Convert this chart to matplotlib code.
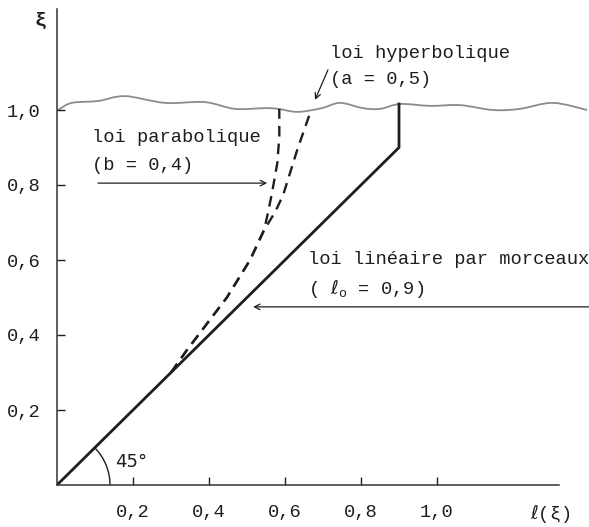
import matplotlib
matplotlib.use('Agg')
import matplotlib.pyplot as plt
from matplotlib.patches import Arc, PathPatch
from matplotlib.path import Path

plt.rcParams['mathtext.fontset'] = 'dejavusans'

# ── Data ──────────────────────────────────────────────────────────────────────
# piecewise linear law (l0 = 0.9)
lin_l  = [0.0, 0.9, 0.9]
lin_xi = [0.0, 0.9, 1.016]

# shared lower part of the parabolic / hyperbolic laws
common_l  = [0.30, 0.342, 0.447, 0.508, 0.545]
common_xi = [0.30, 0.36, 0.50, 0.60, 0.68]

# parabolic law (b = 0.4), upper branch
para_l  = [0.555, 0.566, 0.580, 0.585, 0.585]
para_xi = [0.725, 0.780, 0.860, 0.930, 1.003]

# hyperbolic law (a = 0.5), upper branch
hyp_l  = [0.574, 0.595, 0.632, 0.667]
hyp_xi = [0.728, 0.773, 0.893, 0.995]

# break line at xi = 1
wave_l  = [0.003, 0.039, 0.108, 0.179, 0.284, 0.389, 0.468, 0.547, 0.582, 0.634,
           0.697, 0.745, 0.805, 0.850, 0.903, 0.982, 1.061, 1.147, 1.218, 1.305, 1.395]
wave_xi = [1.000, 1.019, 1.024, 1.037, 1.019, 1.021, 1.003, 1.005, 1.003, 0.995,
           1.005, 1.019, 1.005, 1.003, 1.016, 1.011, 1.013, 1.000, 1.003, 1.019, 1.000]

x_ticks  = [0.2, 0.4, 0.6, 0.8, 1.0]
x_labels = ['0,2', '0,4', '0,6', '0,8', '1,0']
y_ticks  = [0.2, 0.4, 0.6, 0.8, 1.0]
y_labels = ['0,2', '0,4', '0,6', '0,8', '1,0']

# ── Style ─────────────────────────────────────────────────────────────────────
INK   = '#1e1e1e'
MONO  = ['Liberation Mono', 'DejaVu Sans Mono']
FS    = 13.5


def smooth_path(xs, ys):
    # Catmull-Rom through the nodes, written as cubic Bezier segments
    verts = [(xs[0], ys[0])]
    codes = [Path.MOVETO]
    n = len(xs)
    for i in range(n - 1):
        x0, y0 = (xs[i - 1], ys[i - 1]) if i > 0 else (xs[i], ys[i])
        x1, y1 = xs[i], ys[i]
        x2, y2 = xs[i + 1], ys[i + 1]
        x3, y3 = (xs[i + 2], ys[i + 2]) if i + 2 < n else (x2, y2)
        c1 = (x1 + (x2 - x0) / 6, y1 + (y2 - y0) / 6)
        c2 = (x2 - (x3 - x1) / 6, y2 - (y3 - y1) / 6)
        verts += [c1, c2, (x2, y2)]
        codes += [Path.CURVE4] * 3
    return Path(verts, codes)


fig = plt.figure(figsize=(5.89, 5.27), dpi=100)
fig.patch.set_facecolor('white')
ax = fig.add_axes([57 / 589, 42 / 527, 528 / 589, 476 / 527])
ax.set_xlim(0, 528 / 380)
ax.set_ylim(0, 476 / 375)

for side in ('top', 'right'):
    ax.spines[side].set_visible(False)
for side in ('left', 'bottom'):
    ax.spines[side].set_color('#333333')
    ax.spines[side].set_linewidth(1.1)
ax.spines['bottom'].set_bounds(0, 1.32)

ax.set_xticks(x_ticks)
ax.set_xticklabels(x_labels, fontfamily=MONO, fontsize=FS)
ax.set_yticks(y_ticks)
ax.set_yticklabels(y_labels, fontfamily=MONO, fontsize=FS)
ax.tick_params(axis='x', direction='in', length=6, width=1, pad=14, colors=INK)
ax.tick_params(axis='y', direction='in', length=6, width=1, pad=12, colors=INK)

# ── Curves ────────────────────────────────────────────────────────────────────
ax.add_patch(PathPatch(smooth_path(wave_l, wave_xi), fill=False,
                       edgecolor='#8c8c8c', lw=1.3, clip_on=False))
ax.plot(lin_l, lin_xi, color=INK, lw=2.0, solid_joinstyle='miter')

dash = (0, (4.5, 3))
ax.plot(common_l + para_l, common_xi + para_xi, color=INK, lw=1.7, linestyle=dash)
ax.plot(common_l + hyp_l, common_xi + hyp_xi, color=INK, lw=1.7, linestyle=dash)

# 45 degree marker at the origin
ax.add_patch(Arc((0, 0), 2 * 53 / 380, 2 * 53 / 375, theta1=0, theta2=45,
                 color=INK, lw=1.0))
ax.text(0.195, 0.062, '45°', fontsize=13, color=INK, ha='center', va='center',
        family='DejaVu Sans')

# ── Annotations ───────────────────────────────────────────────────────────────
arrow = dict(arrowstyle='->', color=INK, lw=0.9, shrinkA=0, shrinkB=0)

ax.text(0.718, 1.152, 'loi hyperbolique', family=MONO, fontsize=FS, color=INK,
        va='center', ha='left')
ax.text(0.718, 1.080, '(a = 0,5)', family=MONO, fontsize=FS, color=INK,
        va='center', ha='left')
ax.annotate('', xy=(0.679, 1.027), xytext=(0.713, 1.107), arrowprops=arrow)

ax.text(0.092, 0.928, 'loi parabolique', family=MONO, fontsize=FS, color=INK,
        va='center', ha='left')
ax.text(0.092, 0.853, '(b = 0,4)', family=MONO, fontsize=FS, color=INK,
        va='center', ha='left')
ax.annotate('', xy=(0.553, 0.805), xytext=(0.108, 0.805), arrowprops=arrow)

ax.text(0.661, 0.600, 'loi linéaire par morceaux', family=MONO, fontsize=FS,
        color=INK, va='center', ha='left', clip_on=False)
ax.text(0.661, 0.525, r'( $\ell_\mathregular{o}$ = 0,9)', family=MONO,
        fontsize=FS, color=INK, va='center', ha='left')
ax.annotate('', xy=(0.516, 0.475), xytext=(1.40, 0.475), arrowprops=arrow,
            annotation_clip=False)

# axis names
ax.text(-0.045, 1.24, 'ξ', family=MONO, fontsize=14, fontweight='bold',
        color=INK, ha='center', va='center', clip_on=False)
ax.text(1.297, -0.075, r'$\ell$(ξ)', family=MONO, fontsize=FS,
        color=INK, ha='center', va='center', clip_on=False)

fig.savefig('out.png', dpi=100)
